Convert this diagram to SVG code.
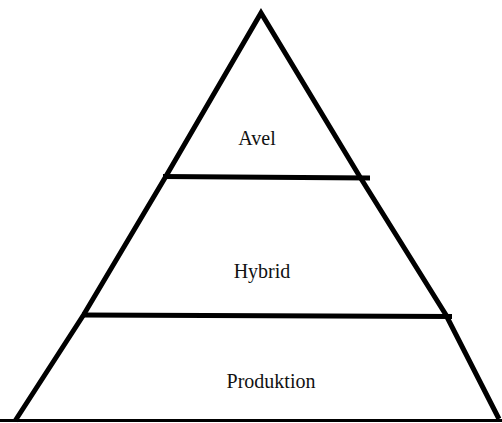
<svg xmlns="http://www.w3.org/2000/svg" width="502" height="423" viewBox="0 0 502 423">
<style>
.ln{fill:none;stroke:#000;stroke-width:5;stroke-linejoin:miter;stroke-linecap:butt}
.lb{font-family:"Liberation Serif","Times New Roman",serif;font-size:20px;fill:#111;text-anchor:middle}
</style>
<rect width="502" height="423" fill="#fff"/>
<g id="connectors">
<polyline class="ln" points="15,421 83.5,315 165.5,177 261,13 360,177 446,315 499,419"/>
<line class="ln" x1="0" y1="420.5" x2="502" y2="420.5" style="stroke-width:3"/>
<line class="ln" x1="163" y1="176.5" x2="370" y2="178"/>
<line class="ln" x1="82" y1="315" x2="452" y2="316.5"/>
</g>
<g id="avel"><text class="lb" x="257" y="145">Avel</text></g>
<g id="hybrid"><text class="lb" x="262" y="278">Hybrid</text></g>
<g id="produktion"><text class="lb" x="271" y="388">Produktion</text></g>
</svg>
